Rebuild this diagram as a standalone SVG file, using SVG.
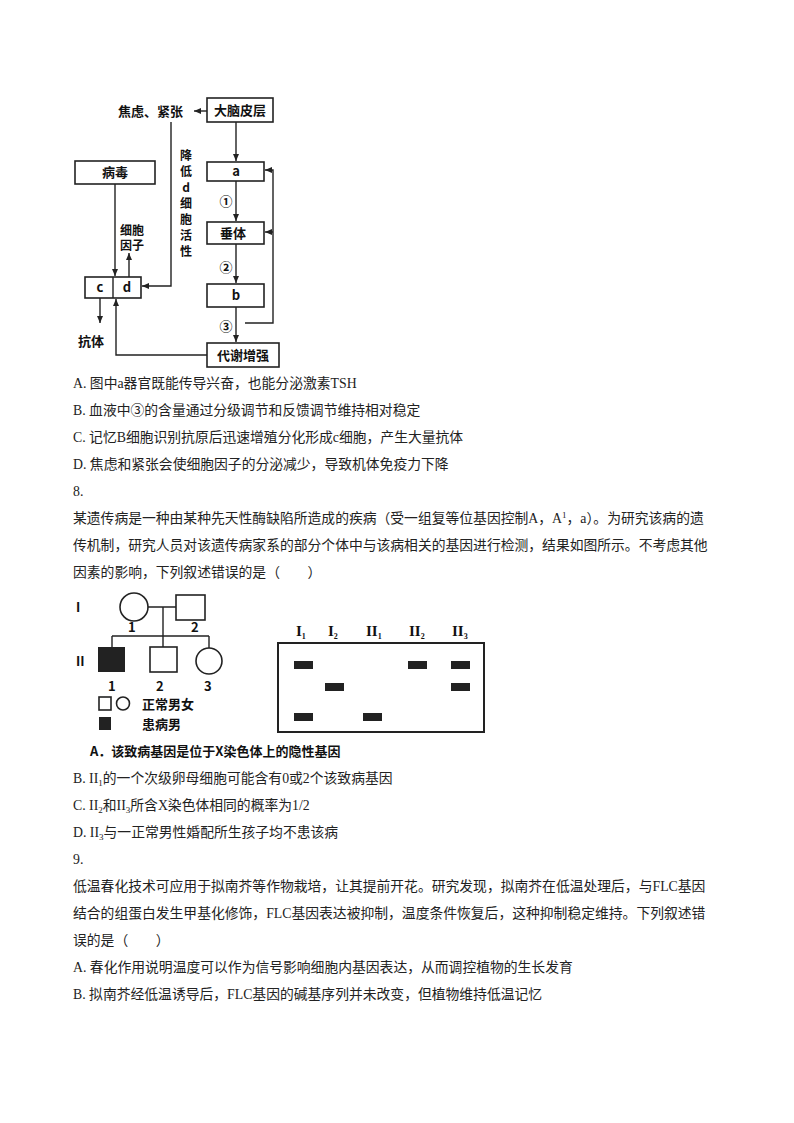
<svg xmlns="http://www.w3.org/2000/svg" width="794" height="1123" viewBox="0 0 794 1123">
<style>
.b{fill:#fff;stroke:#222;stroke-width:1.6}
.l{fill:none;stroke:#222;stroke-width:1.4}
.t{font-family:"Noto Sans CJK SC","Noto Sans",sans-serif;font-size:13px;fill:#111;font-weight:bold}
.v{font-family:"Noto Sans CJK SC","Noto Sans",sans-serif;font-size:12px;fill:#111;font-weight:bold;text-anchor:middle}
.p{font-family:"Liberation Serif","Noto Sans CJK SC",serif;font-size:13.8px;fill:#222}
.c{text-anchor:middle}
.band{fill:#222}
</style>
<defs><marker id="ar" markerWidth="8" markerHeight="8" refX="7" refY="4" orient="auto" markerUnits="userSpaceOnUse"><path d="M0,1 L7,4 L0,7 z" fill="#222"/></marker></defs>
<rect width="794" height="1123" fill="#fff"/>
<g id="connectors">
<path class="l" d="M207,111 H194" marker-end="url(#ar)"/>
<path class="l" d="M171,122 V286 H142" marker-end="url(#ar)"/>
<path class="l" d="M236,122 V161" marker-end="url(#ar)"/>
<path class="l" d="M236,181 V221" marker-end="url(#ar)"/>
<path class="l" d="M236,244 V283" marker-end="url(#ar)"/>
<path class="l" d="M236,307 V342" marker-end="url(#ar)"/>
<path class="l" d="M245,323 H273 V170 H265" marker-end="url(#ar)"/>
<path class="l" d="M273,232 H265" marker-end="url(#ar)"/>
<path class="l" d="M115,184 V276" marker-end="url(#ar)"/>
<path class="l" d="M129,277 V253" marker-end="url(#ar)"/>
<path class="l" d="M100,298 V323" marker-end="url(#ar)"/>
<path class="l" d="M207,355 H116 V299" marker-end="url(#ar)"/>
</g>
<g id="n-jl"><text class="t" x="118" y="116">焦虑、紧张</text></g>
<g id="n-dn"><rect class="b" x="207" y="98" width="66" height="24"/><text class="t c" x="240" y="115">大脑皮层</text></g>
<g id="n-jd"><text class="v" x="186" y="160">降</text><text class="v" x="186" y="176">低</text><text class="v" x="186" y="192">d</text><text class="v" x="186" y="208">细</text><text class="v" x="186" y="224">胞</text><text class="v" x="186" y="240">活</text><text class="v" x="186" y="256">性</text></g>
<g id="n-bd"><rect class="b" x="75" y="161" width="80" height="23"/><text class="t c" x="115" y="177">病毒</text></g>
<g id="n-a"><rect class="b" x="207" y="162" width="57" height="19"/><text class="t c" x="236" y="176">a</text></g>
<g id="n-1"><text class="t c" x="226" y="206" font-size="16">①</text></g>
<g id="n-ct"><rect class="b" x="207" y="222" width="57" height="22"/><text class="t c" x="233" y="238">垂体</text></g>
<g id="n-2"><text class="t c" x="226" y="272" font-size="16">②</text></g>
<g id="n-b"><rect class="b" x="207" y="284" width="57" height="23"/><text class="t c" x="236" y="300">b</text></g>
<g id="n-3"><text class="t c" x="226" y="331" font-size="16">③</text></g>
<g id="n-dx"><rect class="b" x="207" y="343" width="72" height="24"/><text class="t c" x="243" y="360">代谢增强</text></g>
<g id="n-xb"><text class="v" x="132" y="235">细胞</text><text class="v" x="132" y="250">因子</text></g>
<g id="n-cd"><rect class="b" x="85" y="277" width="56" height="21"/><line class="l" x1="113" y1="277" x2="113" y2="298"/><text class="t c" x="100" y="292">c</text><text class="t c" x="127" y="292">d</text></g>
<g id="n-kt"><text class="t" x="78" y="346">抗体</text></g>
<g class="p">
<text x="73" y="388">A. 图中a器官既能传导兴奋，也能分泌激素TSH</text>
<text x="73" y="415">B. 血液中③的含量通过分级调节和反馈调节维持相对稳定</text>
<text x="73" y="442">C. 记忆B细胞识别抗原后迅速增殖分化形成c细胞，产生大量抗体</text>
<text x="73" y="469">D. 焦虑和紧张会使细胞因子的分泌减少，导致机体免疫力下降</text>
<text x="73" y="496">8.</text>
<text x="73" y="523">某遗传病是一种由某种先天性酶缺陷所造成的疾病（受一组复等位基因控制A，A<tspan font-size="9" dy="-5">1</tspan><tspan dy="5">，a）。为研究该病的遗</tspan></text>
<text x="73" y="550">传机制，研究人员对该遗传病家系的部分个体中与该病相关的基因进行检测，结果如图所示。不考虑其他</text>
<text x="73" y="577">因素的影响，下列叙述错误的是（　　）</text>
</g>
<g id="pedigree">
<text class="t" x="76" y="612" font-family="Liberation Serif" font-size="15">I</text>
<circle class="b" cx="134" cy="607" r="14"/>
<rect class="b" x="176" y="595" width="29" height="25"/>
<path class="l" d="M148,607 H176 M163,607 V636 M112,636 H209 M112,636 V647 M163,636 V647 M209,636 V648"/>
<text class="t" x="128" y="632">1</text><text class="t" x="191" y="632">2</text>
<text class="t" x="76" y="666" font-family="Liberation Serif" font-size="15">II</text>
<rect x="98" y="647" width="27" height="25" fill="#222"/>
<rect class="b" x="150" y="647" width="27" height="25"/>
<circle class="b" cx="209" cy="661" r="13"/>
<text class="t" x="108" y="691">1</text><text class="t" x="156" y="691">2</text><text class="t" x="204" y="691">3</text>
<rect class="b" x="99" y="697" width="12" height="13"/>
<circle class="b" cx="123" cy="703.5" r="6.5"/>
<text class="t" x="142" y="709">正常男女</text>
<rect x="99" y="717" width="12" height="13" fill="#222"/>
<text class="t" x="142" y="729">患病男</text>
</g>
<g id="gel">
<rect x="278" y="643" width="206" height="89" fill="#fff" stroke="#222" stroke-width="2"/>
<g font-family="Liberation Serif" font-size="15" font-weight="bold" fill="#111">
<text x="296" y="636">I<tspan font-size="8" dy="3">1</tspan></text>
<text x="328" y="636">I<tspan font-size="8" dy="3">2</tspan></text>
<text x="366" y="636">II<tspan font-size="8" dy="3">1</tspan></text>
<text x="409" y="636">II<tspan font-size="8" dy="3">2</tspan></text>
<text x="452" y="636">II<tspan font-size="8" dy="3">3</tspan></text>
</g>
<rect class="band" x="294" y="661" width="19" height="8"/>
<rect class="band" x="294" y="713" width="19" height="8"/>
<rect class="band" x="325" y="683" width="19" height="8"/>
<rect class="band" x="363" y="713" width="19" height="8"/>
<rect class="band" x="408" y="661" width="19" height="8"/>
<rect class="band" x="451" y="661" width="19" height="8"/>
<rect class="band" x="451" y="683" width="19" height="8"/>
</g>
<text class="t" x="90" y="756" font-size="11.5">A．该致病基因是位于X染色体上的隐性基因</text>
<g class="p">
<text x="73" y="783">B. II<tspan font-size="9" dy="3">1</tspan><tspan dy="-3">的一个次级卵母细胞可能含有0或2个该致病基因</tspan></text>
<text x="73" y="810">C. II<tspan font-size="9" dy="3">2</tspan><tspan dy="-3">和II</tspan><tspan font-size="9" dy="3">3</tspan><tspan dy="-3">所含X染色体相同的概率为1/2</tspan></text>
<text x="73" y="837">D. II<tspan font-size="9" dy="3">3</tspan><tspan dy="-3">与一正常男性婚配所生孩子均不患该病</tspan></text>
<text x="73" y="864">9.</text>
<text x="73" y="891">低温春化技术可应用于拟南芥等作物栽培，让其提前开花。研究发现，拟南芥在低温处理后，与FLC基因</text>
<text x="73" y="918">结合的组蛋白发生甲基化修饰，FLC基因表达被抑制，温度条件恢复后，这种抑制稳定维持。下列叙述错</text>
<text x="73" y="945">误的是（　　）</text>
<text x="73" y="972">A. 春化作用说明温度可以作为信号影响细胞内基因表达，从而调控植物的生长发育</text>
<text x="73" y="999">B. 拟南芥经低温诱导后，FLC基因的碱基序列并未改变，但植物维持低温记忆</text>
</g>
</svg>
